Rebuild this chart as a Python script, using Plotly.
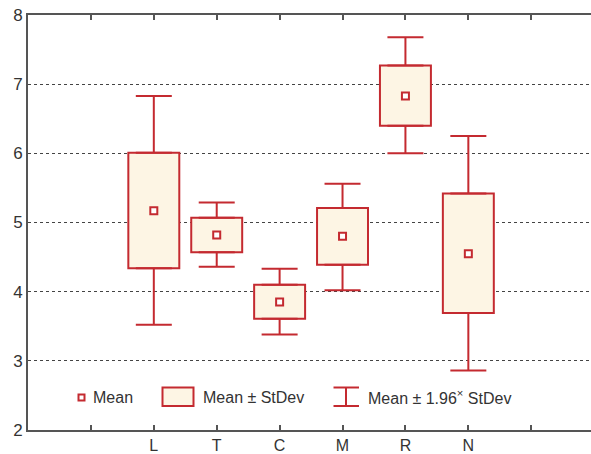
import plotly.graph_objects as go

# ---- data ----
categories = ["L", "T", "C", "M", "R", "N"]
cat_pos = [1, 2, 3, 4, 5, 6]
means = [5.17, 4.82, 3.85, 4.80, 6.83, 4.55]
sd_low = [4.34, 4.57, 3.61, 4.39, 6.40, 3.69]
sd_high = [6.01, 5.07, 4.10, 5.21, 7.27, 5.42]
ci_low = [3.52, 4.36, 3.38, 4.02, 6.00, 2.86]
ci_high = [6.83, 5.29, 4.33, 5.56, 7.68, 6.25]
x_tick_vals = [0, 1, 2, 3, 4, 5, 6, 7]
x_tick_text = ["", "L", "T", "C", "M", "R", "N", ""]
y_tick_vals = [2, 3, 4, 5, 6, 7, 8]

RED = "#c42a30"
FILL = "#fdf5e4"
AXIS = "#555555"
TXT = "#333333"
FONT = "Liberation Sans, Arial, sans-serif"

W, H = 591, 454
ML, MR, MT, MB = 28, 0, 15, 24

fig = go.Figure()
# Mean ± StDev boxes
fig.add_trace(go.Bar(
    x=cat_pos, y=[h - l for h, l in zip(sd_high, sd_low)], base=sd_low,
    width=0.81, marker=dict(color=FILL, line=dict(color=RED, width=2)),
    showlegend=False, hoverinfo="skip",
))
# upper whiskers (Mean + 1.96 SD)
fig.add_trace(go.Scatter(
    x=cat_pos, y=sd_high, mode="markers",
    marker=dict(size=1, color="rgba(0,0,0,0)"),
    error_y=dict(type="data", symmetric=False,
                 array=[c - h for c, h in zip(ci_high, sd_high)],
                 arrayminus=[0] * len(cat_pos),
                 color=RED, thickness=2, width=18),
    showlegend=False, hoverinfo="skip",
))
# lower whiskers (Mean - 1.96 SD)
fig.add_trace(go.Scatter(
    x=cat_pos, y=sd_low, mode="markers",
    marker=dict(size=1, color="rgba(0,0,0,0)"),
    error_y=dict(type="data", symmetric=False,
                 array=[0] * len(cat_pos),
                 arrayminus=[l - c for l, c in zip(sd_low, ci_low)],
                 color=RED, thickness=2, width=18),
    showlegend=False, hoverinfo="skip",
))
# means
fig.add_trace(go.Scatter(
    x=cat_pos, y=means, mode="markers",
    marker=dict(symbol="square", size=7, color="white",
                line=dict(color=RED, width=2)),
    showlegend=False, hoverinfo="skip",
))

# ---- manual legend (paper coordinates from pixel positions) ----
pw, ph = W - ML - MR, H - MT - MB
def px(x):
    return (x - ML) / pw
def py(y):
    return 1 - (y - MT) / ph

shapes = []
shapes.append(dict(type="rect", xref="paper", yref="paper",
                   x0=px(78.5), x1=px(84.5), y0=py(400.5), y1=py(394.5),
                   line=dict(color=RED, width=2), fillcolor="white"))
shapes.append(dict(type="rect", xref="paper", yref="paper",
                   x0=px(162.5), x1=px(193.5), y0=py(406), y1=py(387.5),
                   line=dict(color=RED, width=2), fillcolor=FILL))
for yy in (387.5, 406):
    shapes.append(dict(type="line", xref="paper", yref="paper",
                       x0=px(333.5), x1=px(359), y0=py(yy), y1=py(yy),
                       line=dict(color=RED, width=2)))
shapes.append(dict(type="line", xref="paper", yref="paper",
                   x0=px(346), x1=px(346), y0=py(387.5), y1=py(406),
                   line=dict(color=RED, width=2)))

annotations = []
for xt, label in [(91, "Mean"), (200.5, "Mean ± StDev"),
                  (365.5, "Mean ± 1.96<sup>×</sup> StDev")]:
    annotations.append(dict(xref="paper", yref="paper", x=px(xt), y=py(397),
                            text=label, showarrow=False, xanchor="left",
                            yanchor="middle", font=dict(size=16, color=TXT, family=FONT)))

fig.update_layout(
    width=W, height=H,
    margin=dict(l=ML, r=MR, t=MT, b=MB, pad=0),
    paper_bgcolor="white", plot_bgcolor="white",
    font=dict(family=FONT, size=16, color=TXT),
    shapes=shapes, annotations=annotations, barmode="overlay",
    xaxis=dict(range=[-1, 7.95], tickmode="array", tickvals=x_tick_vals,
               ticktext=x_tick_text, ticks="inside", ticklen=5, tickwidth=1.5,
               tickcolor=AXIS, showline=True, linecolor=AXIS, linewidth=1.5,
               mirror="allticks", showgrid=False, zeroline=False, automargin=False,
               tickfont=dict(size=16, color=TXT)),
    yaxis=dict(range=[2, 8], tickmode="array", tickvals=y_tick_vals,
               showline=True, linecolor=AXIS, linewidth=2, ticks="",
               showgrid=True, gridcolor="#444444", gridwidth=1,
               griddash="3px,3px", zeroline=False, automargin=False,
               tickfont=dict(size=17, color=TXT)),
)

fig.write_html(
    "out.html",
    config={"displayModeBar": False},
    post_script="document.body.style.margin='0';document.body.style.overflow='hidden';",
)
